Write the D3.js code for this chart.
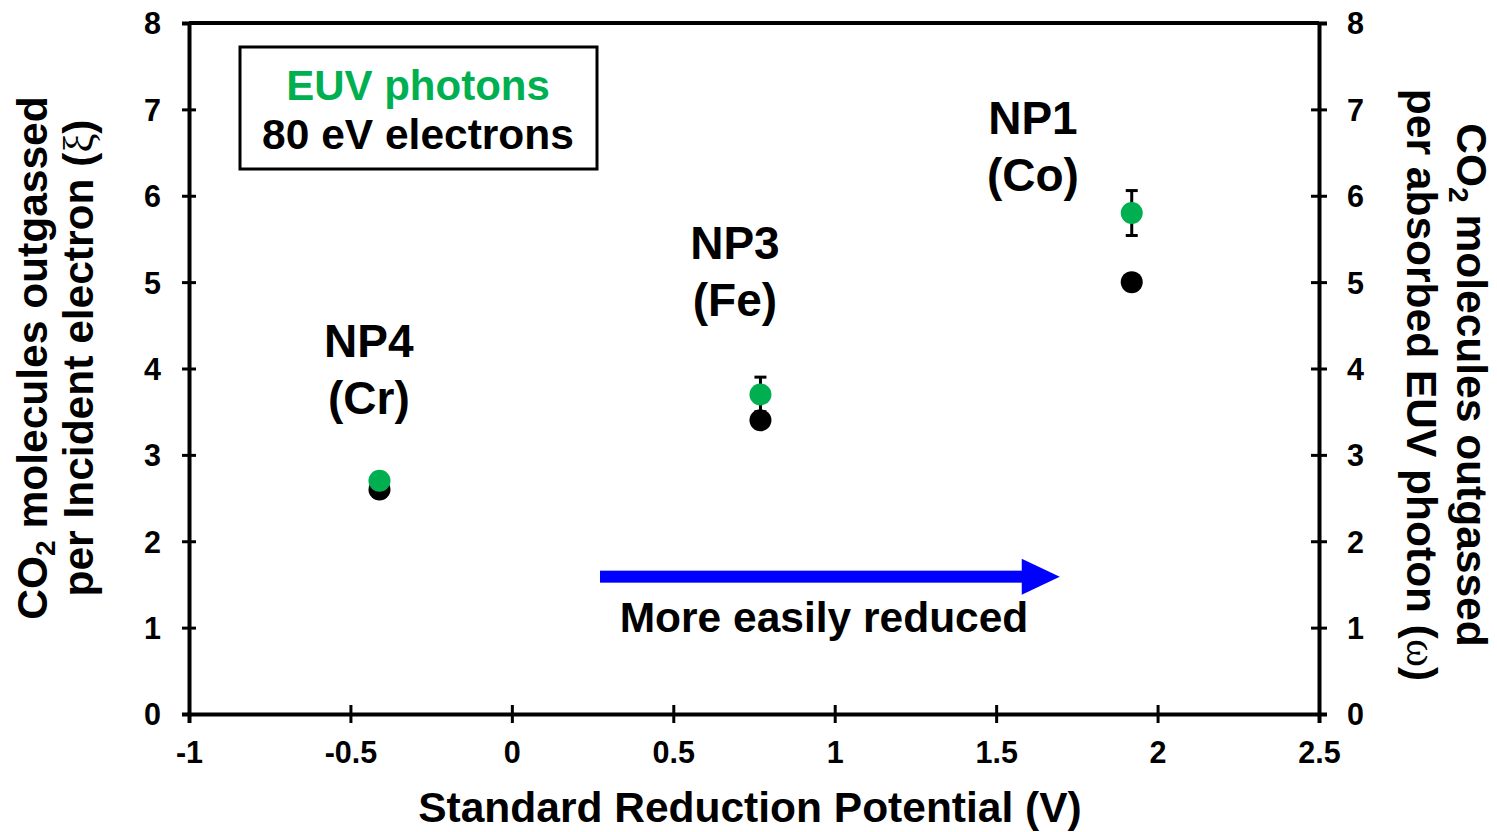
<!DOCTYPE html>
<html>
<head>
<meta charset="utf-8">
<script src="https://cdn.jsdelivr.net/npm/d3@7"></script>
<style>
  html, body { margin: 0; padding: 0; background: #fff; }
  svg { display: block; font-family: 'Liberation Sans', Arial, sans-serif; font-weight: bold; }
</style>
</head>
<body>
<div id="chart"></div>
<script>
// Данные
const potential = [-0.41, 0.77, 1.92]        // В
const electronYield = [2.6, 3.4, 5.0]         // 80 eV electrons (ξ)
const photonYield = [2.7, 3.7, 5.8]           // EUV photons (ω)
const photonErr = [0.05, 0.2, 0.26]
const particles = ['NP4', 'NP3', 'NP1']
const metals = ['(Cr)', '(Fe)', '(Co)']
const xTicks = [-1, -0.5, 0, 0.5, 1, 1.5, 2, 2.5]
const yTicks = [0, 1, 2, 3, 4, 5, 6, 7, 8]

const config = {
  width: 1497,
  height: 832,
  plotLeft: 189,
  plotRight: 1319,
  plotTop: 23,
  plotBottom: 714,
  titleSize: 42.5,
  tickSize: 30.5,
  colors: { green: '#00b050', black: '#000', arrow: '#0000ff' }
}

function drawChart() {
  const { width, height, plotLeft, plotRight, plotTop, plotBottom, titleSize, tickSize, colors } = config

  const svg = d3.select('#chart')
    .append('svg')
    .attr('width', width)
    .attr('height', height)

  const x = d3.scaleLinear().domain([-1, 2.5]).range([plotLeft, plotRight])
  const y = d3.scaleLinear().domain([0, 8]).range([plotBottom, plotTop])

  // Верхняя рамка
  svg.append('line')
    .attr('x1', x(-1)).attr('x2', x(2.5))
    .attr('y1', y(8)).attr('y2', y(8))
    .attr('stroke', '#000').attr('stroke-width', 4)

  // Ось X
  const gx = svg.append('g')
    .attr('transform', `translate(0,${plotBottom})`)
    .call(d3.axisBottom(x).tickValues(xTicks).tickSize(9).tickFormat(d => d))
  gx.select('.domain').attr('stroke-width', 4)
  gx.selectAll('.tick line').attr('y1', -9).attr('y2', 9).attr('stroke-width', 3)
  gx.selectAll('.tick text')
    .attr('y', 49).attr('dy', null)
    .attr('font-size', tickSize).attr('font-family', 'Liberation Sans').attr('font-weight', 'bold').attr('fill', '#000')

  // Ось Y слева
  const gyl = svg.append('g')
    .attr('transform', `translate(${plotLeft},0)`)
    .call(d3.axisLeft(y).tickValues(yTicks).tickSize(7))
  gyl.select('.domain').attr('stroke-width', 4)
  gyl.selectAll('.tick line').attr('x1', 7).attr('x2', -7).attr('stroke-width', 3)
  gyl.selectAll('.tick text')
    .attr('x', -28).attr('dy', '0.36em')
    .attr('font-size', tickSize).attr('font-family', 'Liberation Sans').attr('font-weight', 'bold').attr('fill', '#000')

  // Ось Y справа
  const gyr = svg.append('g')
    .attr('transform', `translate(${plotRight},0)`)
    .call(d3.axisRight(y).tickValues(yTicks).tickSize(8))
  gyr.select('.domain').attr('stroke-width', 4)
  gyr.selectAll('.tick line').attr('x1', -8).attr('x2', 8).attr('stroke-width', 3)
  gyr.selectAll('.tick text')
    .attr('x', 28).attr('dy', '0.36em')
    .attr('font-size', tickSize).attr('font-family', 'Liberation Sans').attr('font-weight', 'bold').attr('fill', '#000')

  // Подпись оси X
  svg.append('text')
    .attr('x', 750).attr('y', 822)
    .attr('text-anchor', 'middle')
    .attr('font-size', titleSize)
    .text('Standard Reduction Potential (V)')

  // Подпись левой оси
  const yl = svg.append('g').attr('transform', 'translate(0,358) rotate(-90)')
  const yl1 = yl.append('text').attr('x', 0).attr('y', 47).attr('text-anchor', 'middle').attr('font-size', titleSize)
  yl1.append('tspan').text('CO')
  yl1.append('tspan').attr('font-size', 28).attr('dy', 8).text('2')
  yl1.append('tspan').attr('dy', -8).text(' molecules outgassed')
  const yl2 = yl.append('text').attr('x', 0).attr('y', 93).attr('text-anchor', 'middle').attr('font-size', titleSize)
  yl2.append('tspan').text('per Incident electron (')
  yl2.append('tspan').attr('font-family', 'Liberation Serif').attr('font-weight', 'normal').text('ξ')
  yl2.append('tspan').text(')')

  // Подпись правой оси
  const yr = svg.append('g').attr('transform', 'translate(0,385) rotate(90)')
  const yr1 = yr.append('text').attr('x', 0).attr('y', -1457).attr('text-anchor', 'middle').attr('font-size', titleSize)
  yr1.append('tspan').text('CO')
  yr1.append('tspan').attr('font-size', 28).attr('dy', 8).text('2')
  yr1.append('tspan').attr('dy', -8).text(' molecules outgassed')
  const yr2 = yr.append('text').attr('x', 0).attr('y', -1407).attr('text-anchor', 'middle').attr('font-size', titleSize)
  yr2.append('tspan').text('per absorbed EUV photon (')
  yr2.append('tspan').attr('font-family', 'Liberation Serif').attr('font-weight', 'normal').text('ω')
  yr2.append('tspan').text(')')

  // Легенда
  svg.append('rect')
    .attr('x', 240).attr('y', 47).attr('width', 357).attr('height', 122)
    .attr('fill', 'none').attr('stroke', '#000').attr('stroke-width', 3)
  svg.append('text')
    .attr('x', 418).attr('y', 100).attr('text-anchor', 'middle')
    .attr('font-size', 42).attr('fill', colors.green)
    .text('EUV photons')
  svg.append('text')
    .attr('x', 418).attr('y', 149).attr('text-anchor', 'middle')
    .attr('font-size', 42.5).attr('fill', colors.black)
    .text('80 eV electrons')

  // Подписи частиц
  const labelAt = [[-0.443, 4.13], [0.691, 5.27], [1.614, 6.71]]
  particles.forEach((p, i) => {
    const [lx, ly] = labelAt[i]
    svg.append('text')
      .attr('x', x(lx)).attr('y', y(ly)).attr('text-anchor', 'middle')
      .attr('font-size', 46).text(p)
    svg.append('text')
      .attr('x', x(lx)).attr('y', y(ly) + 57).attr('text-anchor', 'middle')
      .attr('font-size', 46).text(metals[i])
  })

  // Стрелка
  const arrowY = y(1.59)
  const ax0 = x(0.273), ax1 = x(1.697)
  svg.append('rect')
    .attr('x', ax0).attr('y', arrowY - 6).attr('width', ax1 - 37 - ax0).attr('height', 12)
    .attr('fill', colors.arrow)
  svg.append('path')
    .attr('d', `M${ax1 - 38},${arrowY - 18} L${ax1},${arrowY} L${ax1 - 38},${arrowY + 18} Z`)
    .attr('fill', colors.arrow)
  svg.append('text')
    .attr('x', 824).attr('y', 632).attr('text-anchor', 'middle')
    .attr('font-size', 42.5).text('More easily reduced')

  // Точки электронов
  svg.selectAll('.dot-e')
    .data(potential)
    .enter()
    .append('circle')
    .attr('class', 'dot-e')
    .attr('cx', d => x(d))
    .attr('cy', (d, i) => y(electronYield[i]))
    .attr('r', 11)
    .attr('fill', colors.black)

  // Планки погрешностей
  const errG = svg.append('g').attr('stroke', '#000').attr('stroke-width', 3)
  potential.forEach((d, i) => {
    const cx = x(d)
    const y1 = y(photonYield[i] + photonErr[i])
    const y2 = y(photonYield[i] - photonErr[i])
    errG.append('line').attr('x1', cx).attr('x2', cx).attr('y1', y1).attr('y2', y2)
    errG.append('line').attr('x1', cx - 6).attr('x2', cx + 6).attr('y1', y1).attr('y2', y1)
    errG.append('line').attr('x1', cx - 6).attr('x2', cx + 6).attr('y1', y2).attr('y2', y2)
  })

  // Точки фотонов
  svg.selectAll('.dot-p')
    .data(potential)
    .enter()
    .append('circle')
    .attr('class', 'dot-p')
    .attr('cx', d => x(d))
    .attr('cy', (d, i) => y(photonYield[i]))
    .attr('r', 11)
    .attr('fill', colors.green)
}

drawChart()
</script>
</body>
</html>
